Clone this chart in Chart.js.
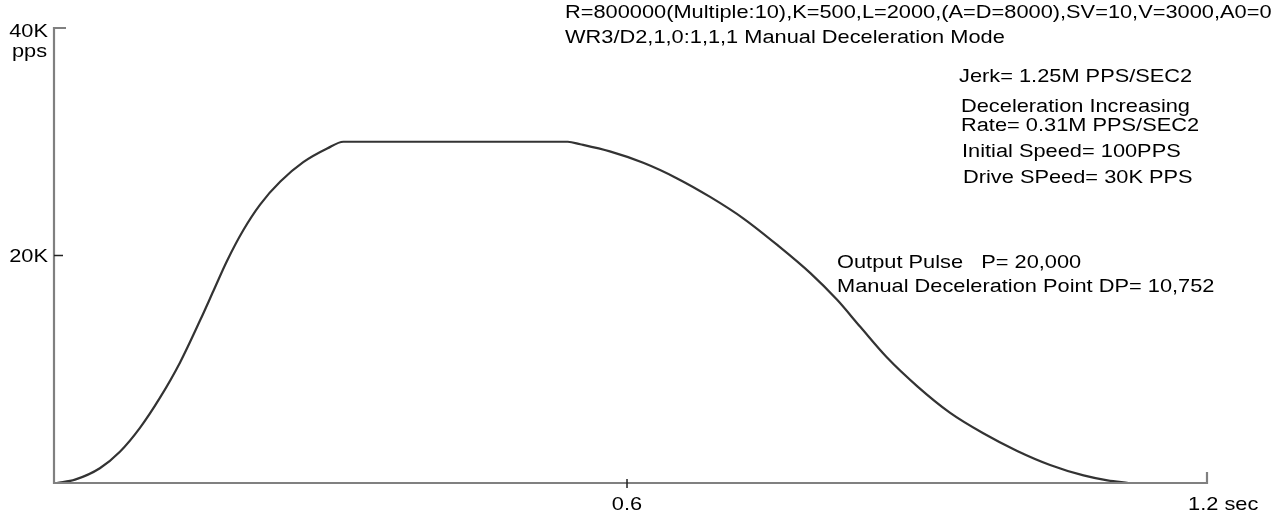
<!DOCTYPE html>
<html>
<head>
<meta charset="utf-8">
<script src="https://cdn.jsdelivr.net/npm/chart.js@4"></script>
<style>
    body { margin: 0; background: #fff; }
    #wrap { width: 1274px; height: 515px; }
</style>
</head>
<body>
<div id="wrap"><canvas id="speedChart" width="1274" height="515"></canvas></div>
<script>
// time (sec) and drive speed (pps)
const timeSec = [
    0.003, 0.022, 0.048, 0.069, 0.090, 0.111, 0.132, 0.153, 0.167, 0.181,
    0.198, 0.216, 0.237, 0.261, 0.286, 0.303,
    0.538, 0.551, 0.582, 0.617, 0.652, 0.687, 0.722, 0.757, 0.792, 0.820,
    0.844, 0.872, 0.904, 0.938, 0.973, 1.008, 1.043, 1.078, 1.103, 1.125
];
const speedPps = [
    0, 300, 1300, 2750, 4850, 7500, 10600, 14300, 16900, 19500,
    22200, 24500, 26500, 28200, 29400, 30000,
    30000, 29780, 29150, 28150, 26800, 25150, 23250, 20950, 18450, 16100,
    13750, 11050, 8500, 6190, 4375, 2845, 1590, 670, 235, 0
];

const yTickValues = [20000, 40000];
const yTickLabels = ["20K", "40K"];
const xTickValues = [0.6, 1.2];
const xTickLabels = ["0.6", "1.2 sec"];

const headerLines = [
    "R=800000(Multiple:10),K=500,L=2000,(A=D=8000),SV=10,V=3000,A0=0",
    "WR3/D2,1,0:1,1,1 Manual Deceleration Mode",
];
const rateLines = [
    "Jerk= 1.25M PPS/SEC2",
    "Deceleration Increasing",
    "Rate= 0.31M PPS/SEC2",
    "Initial Speed= 100PPS",
    "Drive SPeed= 30K PPS",
];
const pulseLines = ["Output Pulse   P= 20,000", "Manual Deceleration Point DP= 10,752"];

const FONT = '21.8px "Liberation Sans", Arial, sans-serif';
const SQUISH = 0.8; // the original lettering is a bit flattened

function squishText(ctx, text, x, y, align) {
    ctx.save();
    ctx.translate(x, y);
    ctx.scale(1, SQUISH);
    ctx.textAlign = align || "left";
    ctx.fillText(text, 0, 0);
    ctx.restore();
}

const axesPlugin = {
    id: "axesPlugin",
    afterDatasetsDraw(chart) {
        const ctx = chart.ctx;
        const xs = chart.scales.x;
        const ys = chart.scales.y;
        const x0 = xs.getPixelForValue(0);
        const y0 = ys.getPixelForValue(0);
        const yTop = ys.getPixelForValue(40000);
        const xEnd = xs.right;

        ctx.save();
        ctx.lineCap = "butt";

        // axis lines
        ctx.strokeStyle = "#808080";
        ctx.lineWidth = 2.2;
        ctx.beginPath();
        ctx.moveTo(x0 + 12, yTop);
        ctx.lineTo(x0, yTop);
        ctx.lineTo(x0, y0);
        ctx.lineTo(xEnd, y0);
        ctx.lineTo(xEnd, y0 - 11);
        ctx.stroke();

        // tick marks
        ctx.strokeStyle = "#222";
        ctx.lineWidth = 1.5;
        ctx.beginPath();
        const y20 = ys.getPixelForValue(yTickValues[0]);
        ctx.moveTo(x0, y20);
        ctx.lineTo(x0 + 9, y20);
        const x06 = xs.getPixelForValue(xTickValues[0]);
        ctx.moveTo(x06, y0 - 4);
        ctx.lineTo(x06, y0 + 5);
        ctx.stroke();

        // tick labels
        ctx.fillStyle = "#000";
        ctx.font = FONT;
        ctx.textBaseline = "alphabetic";
        squishText(ctx, yTickLabels[1], x0 - 6, yTop + 9, "right");
        squishText(ctx, "pps", 12, yTop + 29, "left");
        squishText(ctx, yTickLabels[0], x0 - 6, y20 + 6, "right");
        squishText(ctx, xTickLabels[0], x06, y0 + 27, "center");
        squishText(ctx, xTickLabels[1], xs.getPixelForValue(xTickValues[1]) - 12, y0 + 27, "left");

        // notes
        squishText(ctx, headerLines[0], 565, 18);
        squishText(ctx, headerLines[1], 565, 43);
        const rateY = [82, 112, 131, 157, 183];
        const rateX = [959, 961, 961, 962, 963];
        rateLines.forEach((t, i) => squishText(ctx, t, rateX[i], rateY[i]));
        squishText(ctx, pulseLines[0], 837, 268);
        squishText(ctx, pulseLines[1], 837, 292);
        ctx.restore();
    },
};

const chart = new Chart(document.getElementById("speedChart").getContext("2d"), {
    type: "line",
    data: {
        datasets: [
            {
                data: timeSec.map((t, i) => ({ x: t, y: speedPps[i] })),
                borderColor: "#333",
                borderWidth: 2.2,
                pointRadius: 0,
                fill: false,
                cubicInterpolationMode: "monotone",
            },
        ],
    },
    options: {
        responsive: false,
        animation: false,
        devicePixelRatio: 1,
        layout: { padding: { left: 54, right: 67, top: 28, bottom: 32 } },
        plugins: { legend: { display: false }, tooltip: { enabled: false } },
        scales: {
            x: { type: "linear", display: false, min: 0, max: 1.2073 },
            y: { type: "linear", display: false, min: 0, max: 40000 },
        },
    },
    plugins: [axesPlugin],
});
</script>
</body>
</html>
